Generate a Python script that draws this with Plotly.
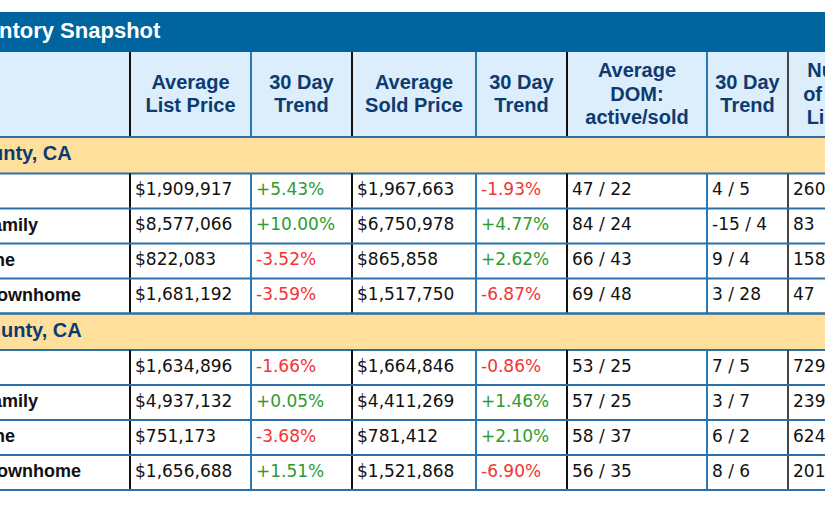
import plotly.graph_objects as go

# --- data (what is visible in the cropped snapshot) ---
title = "ntory Snapshot"
headers = ["Average<br>List Price", "30 Day<br>Trend", "Average<br>Sold Price",
           "30 Day<br>Trend", "Average<br>DOM:<br>active/sold", "30 Day<br>Trend",
           "Number<br>of Active<br>Listings"]
counties = ["unty, CA", "unty, CA"]
property_types = ["", "amily", "ne", "ownhome"]

avg_list_price = [[1909917, 8577066, 822083, 1681192],
                  [1634896, 4937132, 751173, 1656688]]
list_trend = [[5.43, 10.00, -3.52, -3.59],
              [-1.66, 0.05, -3.68, 1.51]]
avg_sold_price = [[1967663, 6750978, 865858, 1517750],
                  [1664846, 4411269, 781412, 1521868]]
sold_trend = [[-1.93, 4.77, 2.62, -6.87],
              [-0.86, 1.46, 2.10, -6.90]]
dom_active = [[47, 84, 66, 69], [53, 57, 58, 56]]
dom_sold = [[22, 24, 43, 48], [25, 25, 37, 35]]
dom_trend_active = [[4, -15, 9, 3], [7, 3, 6, 8]]
dom_trend_sold = [[5, 4, 4, 28], [5, 7, 2, 6]]
listings = [[260, 83, 158, 47], [729, 239, 624, 201]]

# --- layout of the grid (in pixel-like axis units) ---
W, H = 825, 510
col_edges = [-110, 130, 251, 352, 476, 567, 707, 788, 902]
edge_colors = [None, "#111111", "#2a78b4", "#111111", "#2a78b4", "#111111", "#2a78b4", "#444444", None]
title_top, header_top, header_bot = 12, 52, 137
county_h, row_h = 36.5, 35
header_line_h = 23.5
county_text_x = [-9, 1]          # where the cropped labels start
label_text_x = [-3, -8, -6, -3]

TITLE_BG = "#00659f"
HEADER_BG = "#dcedfc"
COUNTY_BG = "#fee09c"
HLINE = "#2b70a8"
NAVY = "#0e3b6f"
GREEN = "#2e9b30"
RED = "#f43333"

money = lambda v: "${:,}".format(v)
pct = lambda v: "{:+.2f}%".format(v)

x0, x1 = col_edges[0], col_edges[-1]
shapes = []


def rect(ya, yb, color):
    shapes.append(dict(type="rect", xref="x", yref="y", x0=x0, x1=x1, y0=ya, y1=yb,
                       fillcolor=color, line=dict(width=0), layer="below"))


def hline(y):
    shapes.append(dict(type="line", xref="x", yref="y", x0=x0, x1=x1, y0=y, y1=y,
                       line=dict(color=HLINE, width=2)))


def vlines(ya, yb):
    for e, c in zip(col_edges, edge_colors):
        if c:
            shapes.append(dict(type="line", xref="x", yref="y", x0=e, x1=e, y0=ya, y1=yb,
                               line=dict(color=c, width=2)))


rect(title_top, header_top, TITLE_BG)
rect(header_top, header_bot, HEADER_BG)
vlines(header_top, header_bot)
hline(header_bot)

# header lines, each line placed on its own so the spacing is tighter than plotly's default
hx, hy, ht = [], [], []
hmid = (header_top + header_bot) / 2 + 1
for i, h in enumerate(headers):
    parts = h.split("<br>")
    for k, p in enumerate(parts):
        hx.append((col_edges[i + 1] + col_edges[i + 2]) / 2)
        hy.append(hmid + (k - (len(parts) - 1) / 2) * header_line_h)
        ht.append(p)

vx, vy, vt, vc = [], [], [], []
lx, ly, lt = [], [], []
cx, cy = [], []
y = header_bot
for b, county in enumerate(counties):
    rect(y, y + county_h, COUNTY_BG)
    hline(y)
    cy.append(y + county_h / 2)
    cx.append(county_text_x[b])
    y += county_h
    hline(y)
    vlines(y, y + row_h * len(property_types))
    for r, label in enumerate(property_types):
        mid = y + row_h / 2
        cells = [
            (money(avg_list_price[b][r]), "#111111"),
            (pct(list_trend[b][r]), GREEN if list_trend[b][r] >= 0 else RED),
            (money(avg_sold_price[b][r]), "#111111"),
            (pct(sold_trend[b][r]), GREEN if sold_trend[b][r] >= 0 else RED),
            ("{} / {}".format(dom_active[b][r], dom_sold[b][r]), "#111111"),
            ("{} / {}".format(dom_trend_active[b][r], dom_trend_sold[b][r]), "#111111"),
            (str(listings[b][r]), "#111111"),
        ]
        for c, (txt, col) in enumerate(cells):
            vx.append(col_edges[c + 1] + 5)
            vy.append(mid)
            vt.append(txt)
            vc.append(col)
        lx.append(label_text_x[r])
        ly.append(mid)
        lt.append(label)
        y += row_h
        hline(y)

fig = go.Figure()

# title
fig.add_trace(go.Scatter(x=[-1], y=[(title_top + header_top) / 2], text=[title], mode="text",
                         textposition="middle right",
                         textfont=dict(family="Liberation Sans", size=22, color="white", weight="bold")))
# column headers
fig.add_trace(go.Scatter(x=hx, y=hy, text=ht, mode="text", textposition="middle center",
                         textfont=dict(family="Liberation Sans", size=20, color=NAVY, weight="bold")))
# county rows
fig.add_trace(go.Scatter(x=cx, y=cy, text=counties, mode="text", textposition="middle right",
                         textfont=dict(family="Liberation Sans", size=20, color=NAVY, weight="bold")))
# property type labels
fig.add_trace(go.Scatter(x=lx, y=ly, text=lt, mode="text", textposition="middle right",
                         textfont=dict(family="Liberation Sans", size=18, color="#111111", weight="bold")))
# values
fig.add_trace(go.Scatter(x=vx, y=vy, text=vt, mode="text", textposition="middle right",
                         textfont=dict(family="DejaVu Sans", size=17, color=vc)))

fig.update_traces(hoverinfo="skip", showlegend=False, cliponaxis=True)
fig.update_layout(
    width=W, height=H,
    margin=dict(l=0, r=0, t=0, b=0),
    paper_bgcolor="white", plot_bgcolor="white",
    xaxis=dict(range=[0, W], visible=False, fixedrange=True),
    yaxis=dict(range=[H, 0], visible=False, fixedrange=True),
    shapes=shapes,
    showlegend=False,
)

fig.write_html("out.html", config={"displayModeBar": False},
               post_script="document.body.style.margin='0px';")
